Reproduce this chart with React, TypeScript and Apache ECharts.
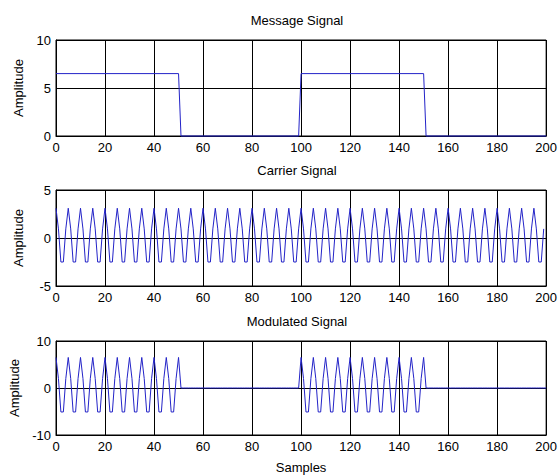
import React, { useEffect, useRef } from "react";
import * as echarts from "echarts";

// ---- data ----
const titles = ["Message Signal", "Carrier Signal", "Modulated Signal"];
const xTicks = [0, 20, 40, 60, 80, 100, 120, 140, 160, 180, 200];

// Message: piecewise-constant square pulse (corner samples)
const messageSamples = [0, 50, 51, 99, 100, 150, 151, 200];
const messageValues = [6.5, 6.5, 0, 0, 6.5, 6.5, 0, 0];

// Carrier: one period (5 samples), shown for samples 0..199
const carrierCycle = [3.1, 0.95, -2.5, -2.5, 0.95];
const carrierLength = 200;

// Modulated: one period of the burst, bursts over the "on" sample ranges
const modulatedCycle = [6.5, 2.0, -5.1, -5.1, 2.0];
const burstRanges = [
  [0, 50],
  [100, 150],
];
const modulatedEnd = 200;

const yRanges = [
  [0, 10, 5],
  [-5, 5, 5],
  [-10, 10, 10],
];

const FONT = "Liberation Sans, Arial, sans-serif";
const LINE = "#2323c8";

function buildMessage(): number[][] {
  return messageSamples.map((x, i) => [x, messageValues[i]]);
}
function buildCarrier(): number[][] {
  const out: number[][] = [];
  for (let n = 0; n < carrierLength; n++) out.push([n, carrierCycle[n % carrierCycle.length]]);
  return out;
}
function buildModulated(): number[][] {
  const out: number[][] = [];
  for (let n = 0; n <= modulatedEnd; n++) {
    const on = burstRanges.some(([a, b]) => n >= a && n <= b);
    out.push([n, on ? modulatedCycle[n % modulatedCycle.length] : 0]);
  }
  return out;
}

export default function App() {
  const ref = useRef<HTMLDivElement>(null);
  useEffect(() => {
    document.body.style.margin = "0";
    const chart = echarts.init(ref.current!, undefined, { renderer: "svg" });
    const tops = [40, 190, 341];
    const grids = tops.map((t) => ({
      left: 56,
      top: t,
      width: 493,
      height: 96,
      show: true,
      borderColor: "#000",
      borderWidth: 1,
      backgroundColor: "#fff",
      containLabel: false,
    }));
    const xAxes = tops.map((_, i) => ({
      type: "value",
      gridIndex: i,
      min: 0,
      max: 200,
      interval: 20,
      name: i === 2 ? "Samples" : "",
      nameLocation: "middle",
      nameGap: 26,
      nameTextStyle: { fontFamily: FONT, fontSize: 13, color: "#000" },
      axisLine: { show: true, onZero: false, lineStyle: { color: "#000", width: 1 } },
      axisTick: { show: true, inside: true, length: 3, lineStyle: { color: "#000" } },
      axisLabel: { margin: 5, fontFamily: FONT, fontSize: 13, color: "#000" },
      splitLine: { show: true, lineStyle: { color: "#000", width: 1 } },
    }));
    const yAxes = yRanges.map(([mn, mx, iv], i) => ({
      type: "value",
      gridIndex: i,
      min: mn,
      max: mx,
      interval: iv,
      name: "Amplitude",
      nameLocation: "middle",
      nameGap: 31,
      nameTextStyle: { fontFamily: FONT, fontSize: 13, color: "#000" },
      axisLine: { show: true, lineStyle: { color: "#000", width: 1 } },
      axisTick: { show: true, inside: true, length: 3, lineStyle: { color: "#000" } },
      axisLabel: { margin: 5, fontFamily: FONT, fontSize: 13, color: "#000" },
      splitLine: { show: true, lineStyle: { color: "#000", width: 1 } },
    }));
    const titleTops = [14, 164, 315];
    const series = [buildMessage(), buildCarrier(), buildModulated()].map((d, i) => ({
      type: "line",
      xAxisIndex: i,
      yAxisIndex: i,
      data: d,
      showSymbol: false,
      symbol: "none",
      clip: false,
      lineStyle: { color: LINE, width: 1 },
      z: 5,
    }));
    chart.setOption({
      animation: false,
      backgroundColor: "#fff",
      title: titles.map((t, i) => ({
        text: t,
        left: 297,
        top: titleTops[i],
        padding: 0,
        textAlign: "center",
        textStyle: { fontFamily: FONT, fontSize: 13, fontWeight: "normal", color: "#000" },
      })),
      grid: grids,
      xAxis: xAxes,
      yAxis: yAxes,
      series,
    });
    void xTicks;
    return () => chart.dispose();
  }, []);
  return (
    <div
      ref={ref}
      style={{ position: "absolute", left: 0, top: 0, width: 560, height: 475, background: "#fff" }}
    />
  );
}
